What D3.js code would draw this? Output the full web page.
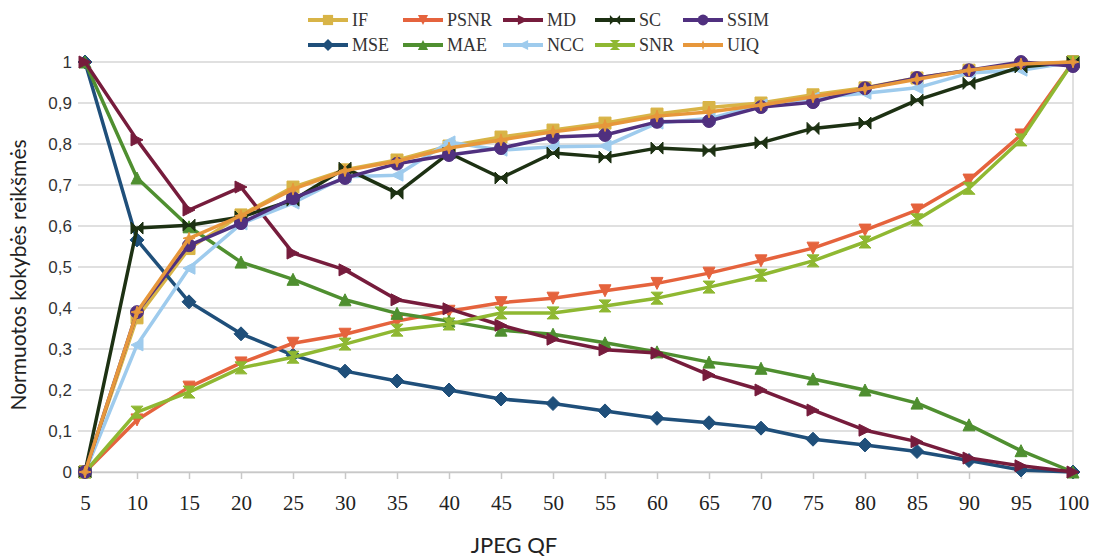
<!DOCTYPE html>
<html>
<head>
<meta charset="utf-8">
<script src="https://cdn.jsdelivr.net/npm/d3@7"></script>
<style>
  body { margin: 0; background: #fff; }
</style>
</head>
<body>
<div id="chart"></div>
<script>
// JPEG quality factors (x axis)
var qf = [5, 10, 15, 20, 25, 30, 35, 40, 45, 50, 55, 60, 65, 70, 75, 80, 85, 90, 95, 100];
var yTicks = [0, 0.1, 0.2, 0.3, 0.4, 0.5, 0.6, 0.7, 0.8, 0.9, 1];

// normalised metric values
var IF   = [0, 0.376, 0.545, 0.627, 0.695, 0.737, 0.761, 0.795, 0.817, 0.834, 0.851, 0.873, 0.889, 0.900, 0.920, 0.937, 0.961, 0.980, 0.993, 1.0];
var MSE  = [1.0, 0.566, 0.415, 0.337, 0.285, 0.246, 0.222, 0.200, 0.178, 0.167, 0.149, 0.131, 0.120, 0.107, 0.080, 0.066, 0.050, 0.028, 0.005, 0];
var PSNR = [0, 0.127, 0.207, 0.266, 0.314, 0.336, 0.368, 0.392, 0.413, 0.424, 0.442, 0.460, 0.485, 0.515, 0.546, 0.590, 0.639, 0.712, 0.822, 1.0];
var MAE  = [1.0, 0.717, 0.598, 0.512, 0.470, 0.420, 0.387, 0.368, 0.346, 0.336, 0.315, 0.293, 0.268, 0.253, 0.227, 0.200, 0.168, 0.115, 0.052, 0];
var MD   = [1.0, 0.810, 0.639, 0.695, 0.534, 0.493, 0.420, 0.398, 0.358, 0.324, 0.298, 0.290, 0.237, 0.200, 0.151, 0.102, 0.074, 0.034, 0.015, 0];
var NCC  = [0, 0.310, 0.497, 0.605, 0.656, 0.720, 0.724, 0.805, 0.785, 0.793, 0.795, 0.851, 0.862, 0.895, 0.912, 0.924, 0.937, 0.973, 0.980, 1.0];
var SC   = [0, 0.595, 0.602, 0.622, 0.663, 0.741, 0.680, 0.778, 0.717, 0.778, 0.768, 0.790, 0.784, 0.803, 0.838, 0.851, 0.907, 0.948, 0.988, 1.0];
var SNR  = [0, 0.146, 0.195, 0.254, 0.280, 0.312, 0.346, 0.361, 0.388, 0.388, 0.405, 0.424, 0.451, 0.480, 0.515, 0.561, 0.615, 0.692, 0.810, 1.0];
var SSIM = [0, 0.390, 0.553, 0.607, 0.668, 0.717, 0.752, 0.773, 0.790, 0.817, 0.822, 0.854, 0.856, 0.890, 0.902, 0.936, 0.961, 0.980, 1.0, 0.990];
var UIQ  = [0, 0.390, 0.570, 0.625, 0.690, 0.735, 0.758, 0.790, 0.810, 0.830, 0.845, 0.868, 0.878, 0.895, 0.915, 0.935, 0.958, 0.980, 0.995, 1.0];

var names  = ["IF", "MSE", "PSNR", "MAE", "MD", "NCC", "SC", "SNR", "SSIM", "UIQ"];
var values = [IF, MSE, PSNR, MAE, MD, NCC, SC, SNR, SSIM, UIQ];
var colors = ["#d8b447", "#1f4f7a", "#e5633d", "#4f8f30", "#761c3c", "#9ecbed", "#1d3113", "#8fb832", "#50307f", "#e7973b"];

var r = 6, rd = 7;
var shapes = {
  IF:   "M" + (-r) + "," + (-r) + "h" + (2*r) + "v" + (2*r) + "h" + (-2*r) + "Z",
  MSE:  "M0," + (-rd) + "L" + rd + ",0L0," + rd + "L" + (-rd) + ",0Z",
  PSNR: "M" + (-r) + "," + (-r) + "L" + r + "," + (-r) + "L0," + r + "Z",
  MAE:  "M" + (-r) + "," + r + "L" + r + "," + r + "L0," + (-r) + "Z",
  MD:   "M" + (-r) + "," + (-r) + "L" + r + ",0L" + (-r) + "," + r + "Z",
  NCC:  "M" + r + "," + (-r) + "L" + (-r) + ",0L" + r + "," + r + "Z",
  SC:   "M" + (-r) + "," + (-r) + "L0,0L" + (-r) + "," + r + "ZM" + r + "," + (-r) + "L0,0L" + r + "," + r + "Z",
  SNR:  "M" + (-r) + "," + (-r) + "L" + r + "," + (-r) + "L0,0ZM" + (-r) + "," + r + "L" + r + "," + r + "L0,0Z",
  SSIM: d3.symbol(d3.symbolCircle, 130)(),
  UIQ:  "M0," + (-r) + "L1.5,-1.5L" + r + ",0L1.5,1.5L0," + r + "L-1.5,1.5L" + (-r) + ",0L-1.5,-1.5Z"
};

var series = names.map(function(n, i) {
  return { name: n, color: colors[i], values: values[i].map(function(v, j) { return { qf: qf[j], v: v }; }) };
});

// set the dimensions and margins of the graph
var W = 1095, H = 559;
var margin = {top: 62, right: 22, bottom: 87, left: 85},
    width = W - margin.left - margin.right,
    height = H - margin.top - margin.bottom;

var root = d3.select("#chart")
  .append("svg")
    .attr("width", W)
    .attr("height", H);

var svg = root.append("g")
    .attr("transform", "translate(" + margin.left + "," + margin.top + ")");

var x = d3.scalePoint()
  .domain(qf)
  .range([0, width]);

var y = d3.scaleLinear()
  .domain([0, 1])
  .range([height, 0]);

// horizontal gridlines + y labels
svg.append("g")
  .selectAll("line")
  .data(yTicks)
  .enter().append("line")
    .attr("x1", -7)
    .attr("x2", width)
    .attr("y1", function(d) { return y(d); })
    .attr("y2", function(d) { return y(d); })
    .attr("stroke", "#d6d6d6")
    .attr("stroke-width", 1.5);

svg.append("g")
  .selectAll("text")
  .data(yTicks)
  .enter().append("text")
    .attr("x", -13)
    .attr("y", function(d) { return y(d); })
    .attr("dy", "0.36em")
    .attr("text-anchor", "end")
    .style("font-family", "Liberation Sans, Arial, sans-serif")
    .style("font-size", "17px")
    .style("fill", "#333")
    .text(function(d) { return d === 0 || d === 1 ? String(d) : String(d).replace(".", ","); });

// right border line
svg.append("line")
  .attr("x1", width).attr("x2", width)
  .attr("y1", 0).attr("y2", height)
  .attr("stroke", "#d6d6d6")
  .attr("stroke-width", 1.5);

// x axis
var xAxis = svg.append("g")
  .attr("transform", "translate(0," + height + ")")
  .call(d3.axisBottom(x).tickSize(7).tickSizeOuter(0).tickPadding(16));
xAxis.select(".domain").attr("stroke", "#c8c8c8").attr("stroke-width", 1.5);
xAxis.selectAll(".tick line").attr("stroke", "#c8c8c8").attr("stroke-width", 1.5);
xAxis.selectAll("text")
  .style("font-family", "Liberation Serif, Georgia, serif")
  .style("font-variant-numeric", "oldstyle-nums")
  .style("font-size", "21px")
  .style("fill", "#222");

// axis titles
root.append("text")
  .attr("x", 514)
  .attr("y", 553)
  .attr("text-anchor", "middle")
  .style("font-family", "Lato, sans-serif")
  .style("font-size", "22px")
  .style("fill", "#222")
  .text("JPEG QF");

root.append("text")
  .attr("transform", "translate(26,275) rotate(-90)")
  .attr("text-anchor", "middle")
  .style("font-family", "Lato, sans-serif")
  .style("font-size", "21px")
  .style("fill", "#222")
  .text("Normuotos kokybės reikšmės");

// lines
var line = d3.line()
  .x(function(d) { return x(d.qf); })
  .y(function(d) { return y(d.v); });

var g = svg.selectAll(".series")
  .data(series)
  .enter().append("g")
    .attr("class", "series");

g.append("path")
  .attr("fill", "none")
  .attr("stroke", function(d) { return d.color; })
  .attr("stroke-width", 3.5)
  .attr("stroke-linejoin", "round")
  .attr("d", function(d) { return line(d.values); });

g.selectAll(".mark")
  .data(function(d) { return d.values.map(function(p) { return {p: p, s: d}; }); })
  .enter().append("path")
    .attr("class", "mark")
    .attr("transform", function(d) { return "translate(" + x(d.p.qf) + "," + y(d.p.v) + ")"; })
    .attr("d", function(d) { return shapes[d.s.name]; })
    .attr("fill", function(d) { return d.s.color; })
    .attr("stroke", function(d) { return d.s.color; })
    .attr("stroke-width", 1);

// legend (column-major, 2 rows)
var legX = [308, 403, 503, 595, 683];
var legY = [20, 45];
var leg = root.append("g")
  .selectAll("g")
  .data(series)
  .enter().append("g")
    .attr("transform", function(d, i) {
      return "translate(" + legX[Math.floor(i / 2)] + "," + legY[i % 2] + ")";
    });
leg.append("line")
  .attr("x1", 0).attr("x2", 40)
  .attr("stroke", function(d) { return d.color; })
  .attr("stroke-width", 4);
leg.append("path")
  .attr("transform", "translate(20,0) scale(0.85)")
  .attr("d", function(d) { return shapes[d.name]; })
  .attr("fill", function(d) { return d.color; });
leg.append("text")
  .attr("x", 44)
  .attr("dy", "0.35em")
  .style("font-family", "Liberation Serif, Times New Roman, serif")
  .style("font-size", "18px")
  .style("fill", "#333")
  .text(function(d) { return d.name; });
</script>
</body>
</html>
